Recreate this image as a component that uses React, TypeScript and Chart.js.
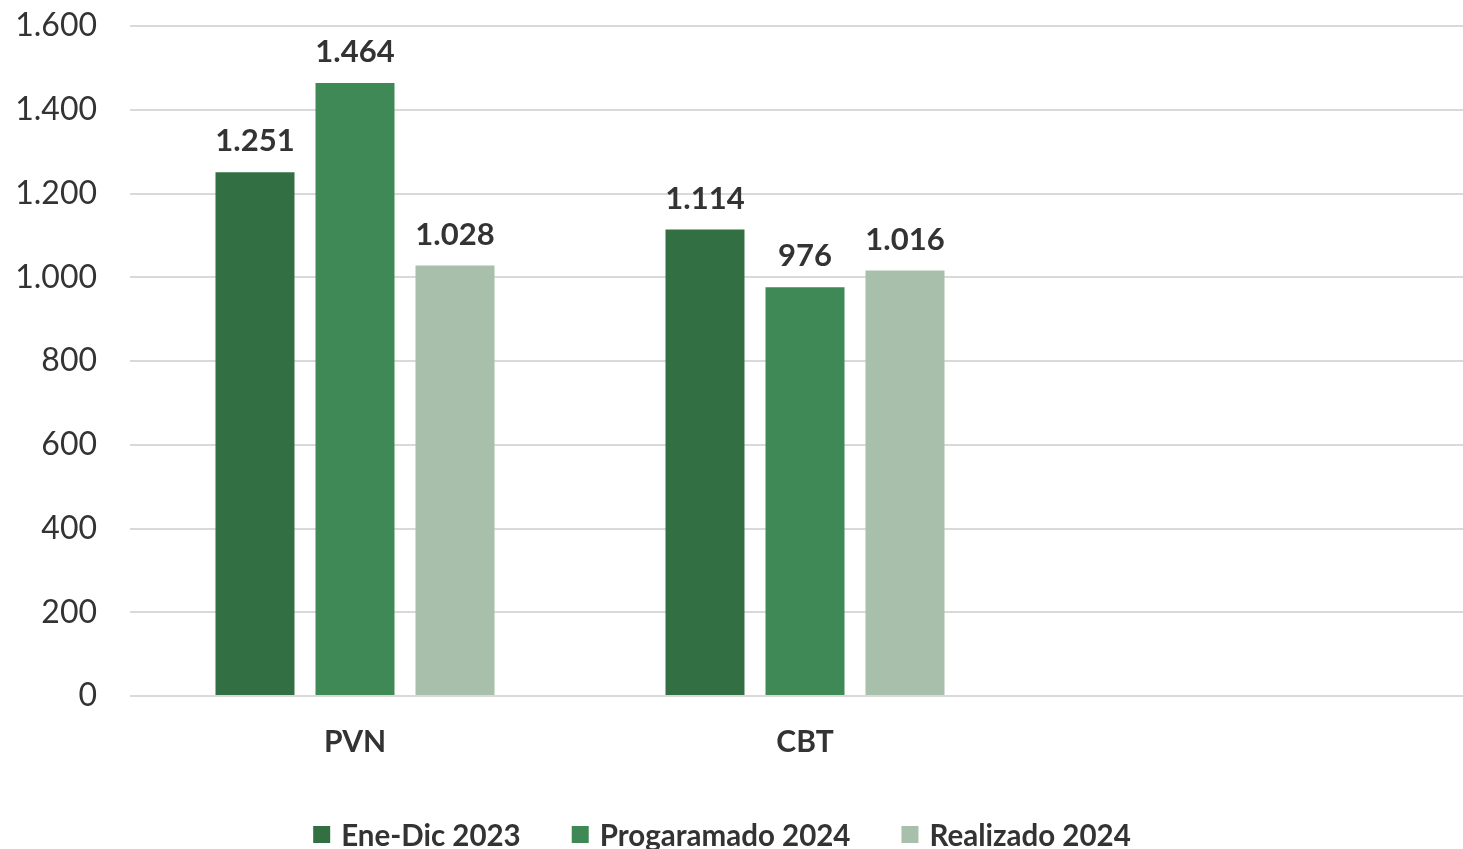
import React, { useEffect, useRef } from "react";
import { Chart, registerables } from "chart.js";

Chart.register(...registerables);

const categories = ["PVN", "CBT", ""];
const seriesLabels = ["Ene-Dic 2023", "Progaramado 2024", "Realizado 2024"];
const eneDic2023 = [1251, 1114, null];
const programado2024 = [1464, 976, null];
const realizado2024 = [1028, 1016, null];
const yTicks = [0, 200, 400, 600, 800, 1000, 1200, 1400, 1600];

const COLORS = ["#327043", "#3e8955", "#a7bfab"];
const TEXT = "#333333";
const FONT = "Lato";

const fmt = (v: number) =>
  Math.round(v)
    .toString()
    .replace(/\B(?=(\d{3})+(?!\d))/g, ".");

const dataLabels = {
  id: "dataLabels",
  afterDatasetsDraw(chart: any) {
    const ctx = chart.ctx;
    ctx.save();
    ctx.font = `bold 31px ${FONT}`;
    ctx.fillStyle = TEXT;
    ctx.textAlign = "center";
    ctx.textBaseline = "alphabetic";
    chart.data.datasets.forEach((ds: any, i: number) => {
      const meta = chart.getDatasetMeta(i);
      meta.data.forEach((el: any, j: number) => {
        const v = ds.data[j];
        if (v == null) return;
        ctx.fillText(fmt(v), el.x, el.y - 21);
      });
    });
    ctx.restore();
  },
};

const customLegend = {
  id: "customLegend",
  afterDraw(chart: any) {
    const ctx = chart.ctx;
    ctx.save();
    ctx.font = `bold 29.5px ${FONT}`;
    ctx.textBaseline = "alphabetic";
    ctx.textAlign = "left";
    const box = 17;
    const gapBoxText = 11;
    const gapItems = 51;
    const widths = chart.data.datasets.map((d: any) => ctx.measureText(d.label).width);
    const total =
      widths.reduce((a: number, b: number) => a + b, 0) +
      widths.length * (box + gapBoxText) +
      (widths.length - 1) * gapItems;
    let x = 722 - total / 2;
    const baseline = 846;
    chart.data.datasets.forEach((d: any, i: number) => {
      ctx.fillStyle = d.backgroundColor;
      ctx.fillRect(x, baseline - 20, box, box);
      x += box + gapBoxText;
      ctx.fillStyle = TEXT;
      ctx.fillText(d.label, x, baseline);
      x += widths[i] + gapItems;
    });
    ctx.restore();
  },
};

export default function App() {
  const ref = useRef<HTMLCanvasElement | null>(null);

  useEffect(() => {
    let chart: Chart | null = null;
    let cancelled = false;
    const make = () => {
      if (cancelled || !ref.current) return;
      chart = new Chart(ref.current, {
        type: "bar",
        data: {
          labels: categories,
          datasets: [
            { label: seriesLabels[0], data: eneDic2023, backgroundColor: COLORS[0] },
            { label: seriesLabels[1], data: programado2024, backgroundColor: COLORS[1] },
            { label: seriesLabels[2], data: realizado2024, backgroundColor: COLORS[2] },
          ] as any,
        },
        options: {
          responsive: false,
          animation: false,
          devicePixelRatio: 1,
          layout: { padding: { top: 26, bottom: 61, left: 0, right: 0 } },
          datasets: {
            bar: { barPercentage: 0.79, categoryPercentage: 0.6667 },
          } as any,
          plugins: {
            legend: { display: false },
            tooltip: { enabled: false },
          },
          scales: {
            x: {
              grid: { display: false, drawTicks: false },
              border: { display: false },
              ticks: {
                font: { family: FONT, size: 30, weight: "bold" },
                color: TEXT,
                padding: 28,
              },
            },
            y: {
              min: 0,
              max: 1600,
              afterBuildTicks: (scale: any) => {
                scale.ticks = yTicks.map((v) => ({ value: v }));
              },
              afterFit: (scale: any) => {
                scale.width = 130;
              },
              grid: {
                color: "#d9d9d9",
                lineWidth: 2,
                drawTicks: true,
                tickLength: 33,
                tickColor: "rgba(0,0,0,0)",
              },
              border: { display: false },
              ticks: {
                font: { family: FONT, size: 32 },
                color: TEXT,
                padding: 0,
                callback: (v: any) => fmt(Number(v)),
              },
            },
          },
        },
        plugins: [dataLabels, customLegend],
      });
    };
    const fonts = (document as any).fonts;
    if (fonts && fonts.load) {
      Promise.all([fonts.load(`30px ${FONT}`), fonts.load(`bold 30px ${FONT}`)])
        .catch(() => {})
        .then(make);
    } else {
      make();
    }
    return () => {
      cancelled = true;
      if (chart) chart.destroy();
    };
  }, []);

  return (
    <div
      style={{
        position: "fixed",
        left: 0,
        top: 0,
        width: 1463,
        height: 849,
        overflow: "hidden",
        background: "#ffffff",
      }}
    >
      <canvas ref={ref} width={1480} height={849} style={{ width: 1480, height: 849, display: "block" }} />
    </div>
  );
}
